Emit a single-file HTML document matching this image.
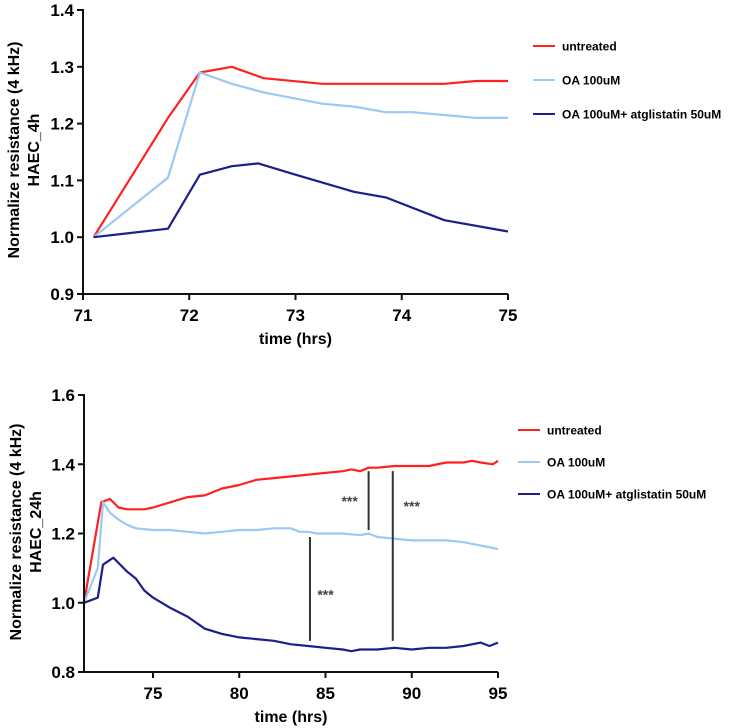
<!DOCTYPE html>
<html><head><meta charset="utf-8"><style>
body{margin:0;background:#fff}
svg{display:block;font-family:"Liberation Sans",sans-serif;font-weight:bold}
</style></head><body>
<svg id="c" width="749" height="728" viewBox="0 0 749 728"></svg>
<script>
const topRedX=[71.1,71.8,72.1,72.4,72.7,73.25,74.4,74.7,75];
const topRedY=[1.0,1.21,1.29,1.30,1.28,1.27,1.27,1.275,1.275];
const topLightX=[71.1,71.8,72.1,72.4,72.7,73.25,73.55,73.85,74.1,74.7,75];
const topLightY=[1.0,1.105,1.29,1.27,1.255,1.235,1.23,1.22,1.22,1.21,1.21];
const topDarkX=[71.1,71.8,72.1,72.4,72.65,73,73.55,73.85,74.4,75];
const topDarkY=[1.0,1.015,1.11,1.125,1.13,1.11,1.08,1.07,1.03,1.01];
const topXTicks=[71,72,73,74,75];
const topYTicks=[0.9,1.0,1.1,1.2,1.3,1.4];

const botRedX=[71,72,72.5,73,73.5,74,74.5,75,76,77,78,79,80,81,82,83,84,85,86,86.5,87,87.5,88,89,90,91,92,93,93.5,94,94.7,95];
const botRedY=[1.0,1.29,1.30,1.275,1.27,1.27,1.27,1.275,1.29,1.305,1.31,1.33,1.34,1.355,1.36,1.365,1.37,1.375,1.38,1.385,1.38,1.39,1.39,1.395,1.395,1.395,1.405,1.405,1.41,1.405,1.40,1.41];
const botLightX=[71,71.8,72.1,72.5,73,73.5,74,75,76,77,78,79,80,81,82,83,83.5,84,84.5,85,86,87,87.5,88,89,90,91,92,93,94,95];
const botLightY=[1.0,1.1,1.29,1.26,1.24,1.225,1.215,1.21,1.21,1.205,1.20,1.205,1.21,1.21,1.215,1.215,1.205,1.205,1.20,1.20,1.20,1.195,1.20,1.19,1.185,1.18,1.18,1.18,1.175,1.165,1.155];
const botDarkX=[71,71.8,72.1,72.7,73.5,74,74.5,75,76,77,78,79,80,81,82,83,84,85,86,86.5,87,88,89,90,91,92,93,94,94.5,95];
const botDarkY=[1.0,1.015,1.11,1.13,1.09,1.07,1.035,1.015,0.985,0.96,0.925,0.91,0.90,0.895,0.89,0.88,0.875,0.87,0.865,0.86,0.865,0.865,0.87,0.865,0.87,0.87,0.875,0.885,0.875,0.885];
const botXTicks=[75,80,85,90,95];
const botYTicks=[0.8,1.0,1.2,1.4,1.6];
const sigX=[84.1,87.5,88.9];
const sigTop=[1.19,1.38,1.38];
const sigBot=[0.89,1.21,0.89];
const sigLabelX=[85.0,86.4,90.0];
const sigLabelY=[1.03,1.30,1.285];

const NS="http://www.w3.org/2000/svg";
const svg=document.getElementById('c');
function mk(t,a,p){const e=document.createElementNS(NS,t);for(const k in a)e.setAttribute(k,a[k]);(p||svg).appendChild(e);return e;}
function lin(d0,d1,r0,r1){return v=>r0+(v-d0)/(d1-d0)*(r1-r0);}
const RED="#ff2020",LIGHT="#9cc8f5",DARK="#1c1f8a";

function panel(o){
  const g=mk('g',{});
  
  
  const x=lin(o.xd[0],o.xd[1],o.xr[0],o.xr[1]);
  const y=lin(o.yd[0],o.yd[1],o.yr[0],o.yr[1]);
  const series=[[o.rx,o.ry,RED,'untreated-line'],[o.lx,o.ly,LIGHT,'oa-line'],[o.dx,o.dy,DARK,'oa-atglistatin-line']];
  series.forEach(s=>{
    const p=mk('polyline',{points:s[0].map((v,i)=>x(v).toFixed(1)+','+y(s[1][i]).toFixed(1)).join(' '),fill:'none',stroke:s[2],'stroke-width':2.2,'stroke-linejoin':'round'},g);
    
    
  });
  const ax=mk('path',{d:`M${o.xr[0]},${o.yr[1]-1}V${o.yr[0]}H${o.xr[1]}`,fill:'none',stroke:'#111','stroke-width':2},g);
  
  
  o.yt.forEach(v=>{
    mk('line',{x1:o.xr[0]-6,x2:o.xr[0],y1:y(v),y2:y(v),stroke:'#111','stroke-width':2},g);
    const t=mk('text',{x:o.xr[0]-9,y:y(v)+6,'text-anchor':'end','font-size':17},g);
    t.textContent=v.toFixed(1);
    
    
  });
  o.xt.forEach(v=>{
    mk('line',{x1:x(v),x2:x(v),y1:o.yr[0],y2:o.yr[0]+6,stroke:'#111','stroke-width':2},g);
    const t=mk('text',{x:x(v),y:o.yr[0]+27,'text-anchor':'middle','font-size':17},g);
    t.textContent=v;
    
    
  });
  const xt=mk('text',{x:(o.xr[0]+o.xr[1])/2,y:o.yr[0]+50,'text-anchor':'middle','font-size':16},g);
  xt.textContent='time (hrs)';
  
  
  const yt=mk('text',{transform:`translate(${o.ytx},${o.yty}) rotate(-90)`,'text-anchor':'middle','font-size':16},g);
  const t1=mk('tspan',{x:0,y:0},yt);t1.textContent='Normalize resistance (4 kHz)';
  const t2=mk('tspan',{x:0,dy:20},yt);t2.textContent=o.sub;
  
  
  const labels=['untreated','OA 100uM','OA 100uM+ atglistatin 50uM'];
  [RED,LIGHT,DARK].forEach((c,i)=>{
    const ly=o.leg[1]+i*o.leg[2];
    const lg=mk('g',{},g);
    
    
    mk('line',{x1:o.leg[0],x2:o.leg[0]+22,y1:ly,y2:ly,stroke:c,'stroke-width':2},lg);
    const t=mk('text',{x:o.leg[0]+29,y:ly+4.5,'font-size':12},lg);
    t.textContent=labels[i];
  });
  return {g,x,y};
}
panel({name:'chart-4h',xd:[71,75],xr:[83,508],yd:[0.9,1.4],yr:[294,10],
  rx:topRedX,ry:topRedY,lx:topLightX,ly:topLightY,dx:topDarkX,dy:topDarkY,
  xt:topXTicks,yt:topYTicks,ytx:19,yty:150,sub:'HAEC_4h',leg:[533,46,34]});
const b=panel({name:'chart-24h',xd:[71,95],xr:[84,498],yd:[0.8,1.6],yr:[672,395],
  rx:botRedX,ry:botRedY,lx:botLightX,ly:botLightY,dx:botDarkX,dy:botDarkY,
  xt:botXTicks,yt:botYTicks,ytx:21,yty:532,sub:'HAEC_24h',leg:[518,430,32]});
sigX.forEach((v,i)=>{
  const l=mk('line',{x1:b.x(v),x2:b.x(v),y1:b.y(sigTop[i]),y2:b.y(sigBot[i]),stroke:'#333','stroke-width':2},b.g);
  
  
  const t=mk('text',{x:b.x(sigLabelX[i]),y:b.y(sigLabelY[i])+7,'text-anchor':'middle','font-size':14,fill:'#444'},b.g);
  t.textContent='***';
  
  
});
</script>
</body></html>
